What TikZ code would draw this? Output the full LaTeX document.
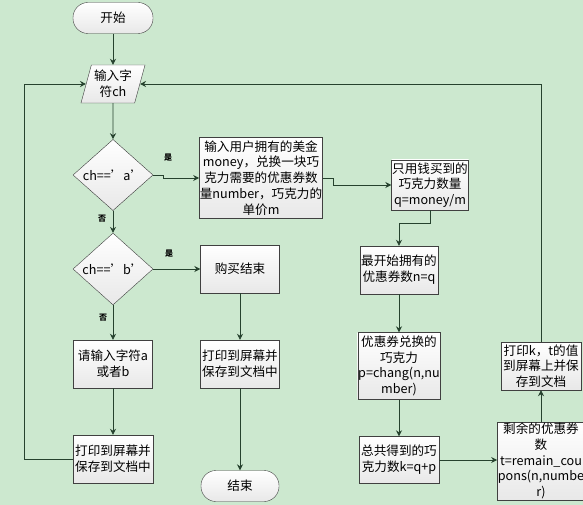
\documentclass[tikz,border=0pt]{standalone}
\usepackage{fontspec}
\setmainfont{Noto Sans CJK SC}
\usepackage{xcolor}
\usepackage{tikz}
\usetikzlibrary{shapes.geometric,arrows.meta}

\definecolor{bggreen}{RGB}{204,232,207}
\definecolor{linegreen}{RGB}{38,66,46}

\begin{document}
\begin{tikzpicture}[x=1pt,y=-1pt,
  box/.style={draw=black!75, top color=white, bottom color=black!9, inner sep=0.5pt,
    align=center, font=\fontsize{12.6}{15.8}\selectfont},
  pill/.style={box, rounded corners=15pt, minimum width=80pt, minimum height=31pt},
  iobox/.style={box, trapezium, trapezium left angle=70, trapezium right angle=110,
    trapezium stretches body, minimum width=64pt, minimum height=38pt},
  test/.style={box, diamond, inner sep=0pt, minimum width=80pt, minimum height=46pt},
  flow/.style={draw=linegreen, line width=0.8pt, -{Stealth[length=6pt,width=6pt]}},
  tag/.style={font=\fontsize{8}{9}\selectfont\bfseries, inner sep=1pt}]
  \fill[bggreen] (0,0) rectangle (583,505);
  \useasboundingbox (0,0) rectangle (583,505);

  \node[pill] (start) at (113,18) {开始};
  \node[iobox] (input) at (113,84) {输入字\\符ch};
  \node[test] (testa) at (113,175) {ch==’a’};
  \node[test] (testb) at (113,269) {ch==’b’};
  \node[box, minimum width=122pt, minimum height=81pt] (given) at (261,178)
    {输入用户拥有的美金\\money，兑换一块巧\\克力需要的优惠券数\\量number，巧克力的\\单价m};
  \node[box, minimum width=77pt, minimum height=50pt] (cash) at (430,185)
    {只用钱买到的\\巧克力数量\\q=money/m};
  \node[box, minimum width=78pt, minimum height=48pt] (owned) at (399,270)
    {最开始拥有的\\优惠券数n=q};
  \node[box, minimum width=80pt, minimum height=67pt] (swap) at (399,366)
    {优惠券兑换的\\巧克力\\p=chang(n,nu\\mber)};
  \node[box, minimum width=80pt, minimum height=47pt] (total) at (399,460)
    {总共得到的巧\\克力数k=q+p};
  \node[box, minimum width=79pt, minimum height=78pt] (left) at (541,461)
    {剩余的优惠券\\数\\t=remain\_cou\\pons(n,numbe\\r)};
  \node[box, minimum width=80pt, minimum height=48pt] (show) at (541,366)
    {打印k，t的值\\到屏幕上并保\\存到文档};
  \node[box, minimum width=79pt, minimum height=48pt] (done) at (240,269) {购买结束};
  \node[box, minimum width=79pt, minimum height=48pt] (saveb) at (240,364)
    {打印到屏幕并\\保存到文档中};
  \node[pill, minimum width=78pt] (stop) at (240,486) {结束};
  \node[box, minimum width=79pt, minimum height=48pt] (retry) at (113,364)
    {请输入字符a\\或者b};
  \node[box, minimum width=80pt, minimum height=48pt] (savex) at (113,459)
    {打印到屏幕并\\保存到文档中};

  \draw[flow] (start) -- (input);
  \draw[flow] (input) -- (testa);
  \draw[flow] (testa.east) -- ++(10,0) |- (given.west);
  \draw[flow] (given.east) -- ++(11,0) |- (cash.west);
  \draw[flow] (cash.south) -- ++(0,13) -| (owned.north);
  \draw[flow] (owned) -- (swap);
  \draw[flow] (swap) -- (total);
  \draw[flow] (total) -- (left.west |- total.east);
  \draw[flow] (left) -- (show);
  \draw[flow] (show.north) |- (input.east);
  \draw[flow] (testa) -- (testb);
  \draw[flow] (testb) -- (done);
  \draw[flow] (testb) -- (retry);
  \draw[flow] (retry) -- (savex);
  \draw[flow] (savex.west) -- ++(-48,0) |- (input.west);
  \draw[flow] (done) -- (saveb);
  \draw[flow] (saveb) -- (stop);

  \node[tag] (yesa) at (168,158) {是};
  \node[tag] (noa) at (102,219) {否};
  \node[tag] (yesb) at (169,254) {是};
  \node[tag] (nob) at (103,318) {否};
\end{tikzpicture}
\end{document}
